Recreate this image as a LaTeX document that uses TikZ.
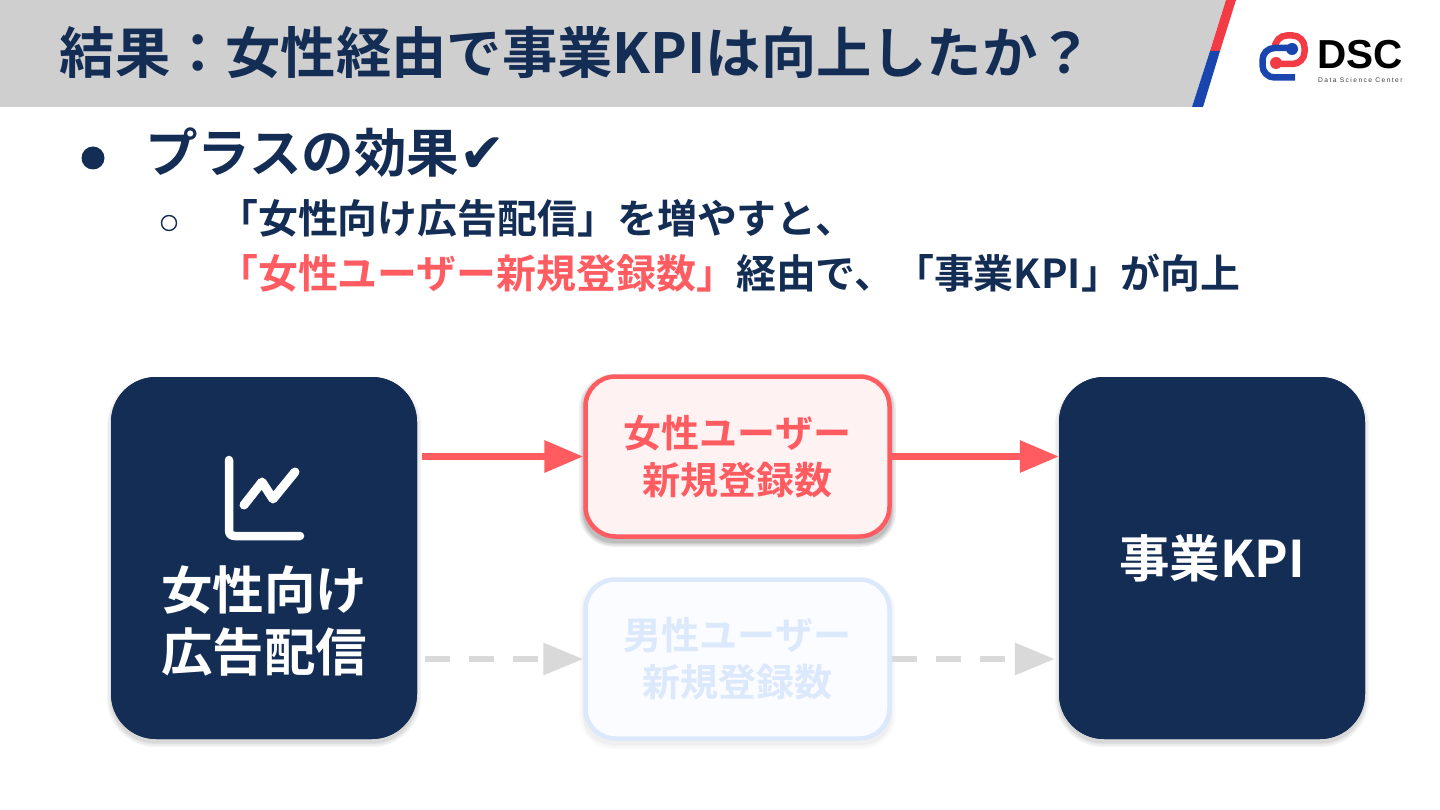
\documentclass[tikz,border=0pt]{standalone}
\usepackage{fontspec}
\usetikzlibrary{arrows.meta,calc,shadows}
\setmainfont{Noto Sans CJK JP}[BoldFont={Noto Sans CJK JP Bold}]
\newfontfamily\symfont{DejaVu Sans}
\newfontfamily\latinfont{Liberation Sans}
\newfontfamily\subfont{Liberation Sans}[LetterSpace=21]
\definecolor{navy}{HTML}{142D55}
\definecolor{redline}{HTML}{FF5C62}
\definecolor{redfill}{HTML}{FFF2F2}
\definecolor{bluefill}{HTML}{FAFCFF}
\definecolor{blueline}{HTML}{DCE8FB}
\definecolor{bandgrey}{HTML}{CFCFCF}
\definecolor{arrowgrey}{HTML}{D9D9D9}
\definecolor{logored}{HTML}{F23B45}
\definecolor{logoblue}{HTML}{1B45AE}
\newcommand{\softshadow}[3]{%
  \foreach \g in {4,2.5,1,0}{\fill[black,opacity=#2,rounded corners=#3+\g*1pt]
    ($(#1.south west)+(-\g*1pt,-\g*1pt-4pt)$) rectangle ($(#1.north east)+(\g*1pt,\g*1pt-4pt)$);}%
}
\tikzset{
  x=1pt,y=-1pt,
  bigbox/.style={fill=navy,text=white,rounded corners=45pt,minimum width=306pt,minimum height=362pt,inner sep=0pt,align=center,font=\bfseries\fontsize{50}{62}\selectfont},
  midbox/.style={line width=4.5pt,rounded corners=30pt,minimum width=304pt,minimum height=159pt,inner sep=0pt,align=center,font=\bfseries\fontsize{38}{47}\selectfont},
  redflow/.style={draw=redline,line width=6.5pt,-{Triangle[length=39pt,width=31pt]}},
  greyflow/.style={draw=arrowgrey,line width=6.5pt,dash pattern=on 25pt off 19pt,-{Triangle[length=40pt,width=31pt]}},
  txt/.style={inner sep=0pt,anchor=west,text=navy,font=\bfseries},
}
\begin{document}
\begin{tikzpicture}
\useasboundingbox (0,0) rectangle (1440,810);
\fill[white] (0,0) rectangle (1440,810);
% header band
\fill[bandgrey] (0,0) -- (1226,0) -- (1192,107) -- (0,107) -- cycle;
\fill[logored] (1226,0) -- (1236,0) -- (1220,51) -- (1210,51) -- cycle;
\fill[logoblue] (1210,51) -- (1220,51) -- (1203,107) -- (1192,107) -- cycle;
\node[txt,font=\bfseries\fontsize{55.3}{60}\selectfont] (title) at (59.5,53) {結果：女性経由で事業KPIは向上したか？};
% logo
\draw[logored,line width=6.5pt,rounded corners=12pt] (1275,43) -- (1275,35.5) -- (1304.5,35.5) -- (1304.5,64) -- (1276,64);
\fill[logored] (1276,63) circle (6);
\draw[logoblue,line width=6.5pt,rounded corners=12pt] (1295,77.5) -- (1262.5,77.5) -- (1262.5,48) -- (1292,48);
\fill[logoblue] (1292,49) circle (6);
\node[inner sep=0pt,anchor=west,text=black,font=\latinfont\bfseries\fontsize{40.5}{41}\selectfont] (logotext) at (1317,55) {DSC};
\node[inner sep=0pt,anchor=west,text=black!75,font=\subfont\fontsize{6.7}{7}\selectfont] (logosub) at (1318,80) {Data Science Center};
% bullets
\fill[navy] (93,158) circle (11.5);
\draw[navy,line width=1.4pt] (169,223) circle (7.5);
\node[txt,font=\bfseries\fontsize{52.5}{56}\selectfont] (head) at (145,153) {プラスの効果{\symfont\fontsize{55}{54}\selectfont ✔}};
\node[txt,font=\bfseries\fontsize{39.9}{44}\selectfont] (l1) at (218,218) {「女性向け広告配信」を増やすと、};
\node[txt,font=\bfseries\fontsize{39.9}{44}\selectfont] (l2) at (218,273) {\textcolor{redline}{「女性ユーザー新規登録数」}経由で、「事業KPI」が向上};
% nodes
\node[bigbox] (src) at (264,558) {};
\softshadow{src}{0.04}{45pt}
\node[bigbox] (srcb) at (264,558) {};
\node[inner sep=0pt,text=white,align=center,font=\bfseries\fontsize{51.5}{62}\selectfont] (srclabel) at (264,621) {女性向け\\広告配信};
\draw[white,line width=8.5pt,line cap=round,line join=round] (229,460) -- (229,530) .. controls (229,534) and (231,536) .. (235,536) -- (300,536);
\draw[white,line width=9pt,line cap=round,line join=round] (244,505) -- (262,482) -- (273,499) -- (295,472);
\node[bigbox] (kpi) at (1212,558) {};
\softshadow{kpi}{0.04}{45pt}
\node[bigbox,font=\bfseries\fontsize{50.5}{60}\selectfont] (kpib) at (1212,558) {事業KPI};
\node[midbox,minimum height=160pt] (fem) at (737.5,456.5) {};
\softshadow{fem}{0.07}{30pt}
\node[midbox,minimum height=160pt,draw=redline,fill=redfill,text=redline] (femb) at (737.5,456.5) {女性ユーザー\\新規登録数};
\node[midbox] (mal) at (737.5,659) {};
\softshadow{mal}{0.015}{30pt}
\node[midbox,draw=blueline,fill=bluefill,text=blueline] (malb) at (737.5,659) {男性ユーザー\\新規登録数};
% connectors
\draw[redflow,shorten <=5pt] (srcb.east |- femb.west) -- (femb.west);
\draw[redflow] (femb.east) -- (kpib.west |- femb.east);
\draw[greyflow,shorten <=8pt] (srcb.east |- malb.west) -- (malb.west);
\draw[greyflow,shorten >=4pt] (malb.east) -- (kpib.west |- malb.east);
\end{tikzpicture}
\end{document}
